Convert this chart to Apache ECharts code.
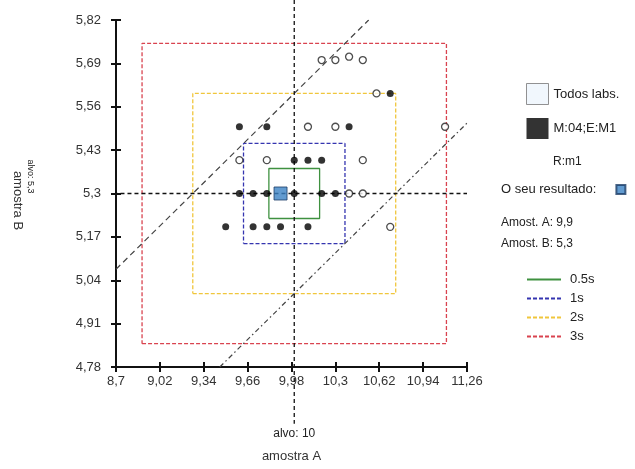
<!DOCTYPE html>
<html><head><meta charset="utf-8">
<script src="https://cdn.jsdelivr.net/npm/echarts@6/dist/echarts.min.js"></script>
<style>html,body{margin:0;padding:0;background:#fff}#c{width:635px;height:469px}</style>
</head><body><div id="c"></div>
<script>
// ---- data ----
const xTicks = [8.7, 9.02, 9.34, 9.66, 9.98, 10.3, 10.62, 10.94, 11.26];
const yTicks = [4.78, 4.91, 5.04, 5.17, 5.3, 5.43, 5.56, 5.69, 5.82];
const targetA = 10;
const targetB = 5.3;
const sigmaLabels = ['0.5s', '1s', '2s', '3s'];
const halfA = [0.185, 0.37, 0.74, 1.11];
const halfB = [0.075, 0.15, 0.30, 0.45];
const allLabsA = [10.2, 10.3, 10.4, 10.5, 10.6, 10.1, 10.3, 11.1, 9.6, 9.8, 10.5, 10.4, 10.5, 10.7];
const allLabsB = [5.7, 5.7, 5.71, 5.7, 5.6, 5.5, 5.5, 5.5, 5.4, 5.4, 5.4, 5.3, 5.3, 5.2];
const m04A = [10.7, 9.6, 9.8, 10.4, 10.0, 10.1, 10.2, 9.6, 9.7, 9.8, 10.0, 10.2, 10.3, 9.5, 9.7, 9.8, 9.9, 10.1];
const m04B = [5.6, 5.5, 5.5, 5.5, 5.4, 5.4, 5.4, 5.3, 5.3, 5.3, 5.3, 5.3, 5.3, 5.2, 5.2, 5.2, 5.2, 5.2];
const resultA = 9.9;
const resultB = 5.3;
const upperDiagA = [8.7, 10.543];
const upperDiagB = [5.073, 5.82];
const lowerDiagA = [9.457, 11.26];
const lowerDiagB = [4.78, 5.511];
const vLineB = [5.88, 4.61];   // extent of target line for A
const hLineA = [8.12, 11.26];  // extent of target line for B

// ---- styles ----
const sigmaColors = ['#3f9140', '#3535b0', '#f0c63c', '#d9434f'];
const sigmaTypes = ['solid', [4, 2], [4, 2], [4, 2]];
const FONT = 'Liberation Sans, Arial, sans-serif';
const fmt = v => String(v).replace('.', ',');

const series = [];
sigmaLabels.forEach((lab, i) => {
  const x0 = targetA - halfA[i], x1 = targetA + halfA[i];
  const y0 = targetB - halfB[i], y1 = targetB + halfB[i];
  series.push({
    name: lab, type: 'line', symbol: 'none', silent: true, z: 2,
    data: [[x0, y0], [x1, y0], [x1, y1], [x0, y1], [x0, y0]],
    lineStyle: { color: sigmaColors[i], width: 1.3, type: sigmaTypes[i] },
    itemStyle: { color: sigmaColors[i] }
  });
});
series.push({
  name: 'diagUp', type: 'line', symbol: 'none', z: 3, silent: true,
  data: upperDiagA.map((a, i) => [a, upperDiagB[i]]),
  lineStyle: { color: '#444', width: 1.2, type: [6, 4] }
});
series.push({
  name: 'diagLow', type: 'line', symbol: 'none', z: 3, silent: true,
  data: lowerDiagA.map((a, i) => [a, lowerDiagB[i]]),
  lineStyle: { color: '#444', width: 1.2, type: [5, 3, 1.5, 3] }
});
series.push({
  name: 'alvoA', type: 'line', symbol: 'circle', symbolSize: 0.01, showSymbol: true, z: 4, silent: true, clip: false,
  itemStyle: { color: 'rgba(0,0,0,0)' },
  data: [[targetA, vLineB[0]], { value: [targetA, vLineB[1]],
    label: { show: true, position: 'bottom', distance: 4, formatter: 'alvo: ' + fmt(targetA), fontSize: 12, color: '#222', fontFamily: FONT } }],
  lineStyle: { color: '#111', width: 1.3, type: [4, 3] }
});
series.push({
  name: 'alvoB', type: 'line', symbol: 'circle', symbolSize: 0.01, showSymbol: true, z: 4, silent: true, clip: false,
  itemStyle: { color: 'rgba(0,0,0,0)' },
  data: [{ value: [hLineA[0], targetB],
    label: { show: true, position: 'left', distance: 6, rotate: -90, formatter: 'alvo: ' + fmt(targetB), fontSize: 9, color: '#222', fontFamily: FONT } },
    [hLineA[1], targetB]],
  lineStyle: { color: '#111', width: 1.3, type: [4, 3] }
});
series.push({
  name: 'Todos labs.', type: 'scatter', z: 5, symbol: 'circle', symbolSize: 7,
  data: allLabsA.map((a, i) => [a, allLabsB[i]]),
  itemStyle: { color: '#fff', borderColor: '#222', borderWidth: 1.3 }
});
series.push({
  name: 'M:04;E:M1', type: 'scatter', z: 6, symbol: 'circle', symbolSize: 7,
  data: m04A.map((a, i) => [a, m04B[i]]),
  itemStyle: { color: '#000' }
});
series.push({
  name: 'O seu resultado:', type: 'scatter', z: 7, symbol: 'rect', symbolSize: 13,
  data: [[resultA, resultB]],
  itemStyle: { color: '#3b82c4', borderColor: '#1d3d66', borderWidth: 1 }
});

const axisBase = (vals) => ({
  type: 'value', min: vals[0], max: vals[vals.length - 1],
  splitLine: { show: false }
});

const option = {
  animation: false,
  backgroundColor: '#fff',
  grid: { left: 116, top: 20, width: 351, height: 347, containLabel: false },
  xAxis: [
    Object.assign(axisBase(xTicks), {
      position: 'bottom',
      name: 'amostra A', nameLocation: 'middle', nameGap: 83,
      nameTextStyle: { fontSize: 13, color: '#333', fontFamily: FONT },
      axisLine: { show: true, lineStyle: { color: '#111', width: 2 } },
      axisTick: { show: true, inside: false, length: 5, customValues: xTicks, lineStyle: { color: '#111', width: 2 } },
      axisLabel: { show: true, customValues: xTicks, formatter: fmt, margin: 8, fontSize: 13, color: '#333', fontFamily: FONT, hideOverlap: false, showMinLabel: true, showMaxLabel: true }
    }),
    Object.assign(axisBase(xTicks), {
      position: 'bottom',
      axisLine: { show: false },
      axisTick: { show: true, inside: true, length: 5, customValues: xTicks, lineStyle: { color: '#111', width: 2 } },
      axisLabel: { show: false }
    })
  ],
  yAxis: [
    Object.assign(axisBase(yTicks), {
      position: 'left',
      name: 'amostra B', nameLocation: 'middle', nameGap: 92, nameRotate: -90,
      nameTextStyle: { fontSize: 13, color: '#333', fontFamily: FONT, padding: [0, 0, 0, 14] },
      axisLine: { show: true, lineStyle: { color: '#111', width: 2 } },
      axisTick: { show: true, inside: false, length: 5, customValues: yTicks, lineStyle: { color: '#111', width: 2 } },
      axisLabel: { show: true, customValues: yTicks, formatter: fmt, margin: 15, fontSize: 13, color: '#333', fontFamily: FONT, showMinLabel: true, showMaxLabel: true }
    }),
    Object.assign(axisBase(yTicks), {
      position: 'left',
      axisLine: { show: false },
      axisTick: { show: true, inside: true, length: 5, customValues: yTicks, lineStyle: { color: '#111', width: 2 } },
      axisLabel: { show: false }
    })
  ],
  legend: [
    {
      orient: 'vertical', left: 521, top: 78, itemWidth: 22, itemHeight: 21, itemGap: 13,
      selectedMode: false,
      textStyle: { fontSize: 13, color: '#222', fontFamily: FONT },
      data: [
        { name: 'Todos labs.', icon: 'rect', itemStyle: { color: '#eef5fd', borderColor: '#777', borderWidth: 1 } },
        { name: 'M:04;E:M1', icon: 'rect', itemStyle: { color: '#000', borderColor: '#000', borderWidth: 0 } }
      ]
    },
    {
      orient: 'vertical', left: 496, top: 178, itemWidth: 9, itemHeight: 9, align: 'right',
      selectedMode: false,
      textStyle: { fontSize: 13, color: '#222', fontFamily: FONT, padding: [0, 15, 0, 0] },
      data: [{ name: 'O seu resultado:', icon: 'rect' }]
    },
    {
      orient: 'vertical', left: 521, top: 268, itemWidth: 34, itemHeight: 10, itemGap: 6,
      selectedMode: false,
      itemStyle: { opacity: 0 },
      textStyle: { fontSize: 13, color: '#222', fontFamily: FONT, padding: [0, 0, 0, 4] },
      data: sigmaLabels
    }
  ],
  graphic: [
    { type: 'text', left: 553, top: 156, style: { text: 'R:m1', font: '12px ' + FONT, fill: '#222' } },
    { type: 'text', left: 501, top: 217, style: { text: 'Amost. A: ' + fmt(resultA), font: '12px ' + FONT, fill: '#222' } },
    { type: 'text', left: 501, top: 238, style: { text: 'Amost. B: ' + fmt(resultB), font: '12px ' + FONT, fill: '#222' } }
  ],
  series: series
};

const chart = echarts.init(document.getElementById('c'), null, { renderer: 'canvas' });
chart.setOption(option);
</script>
</body></html>
